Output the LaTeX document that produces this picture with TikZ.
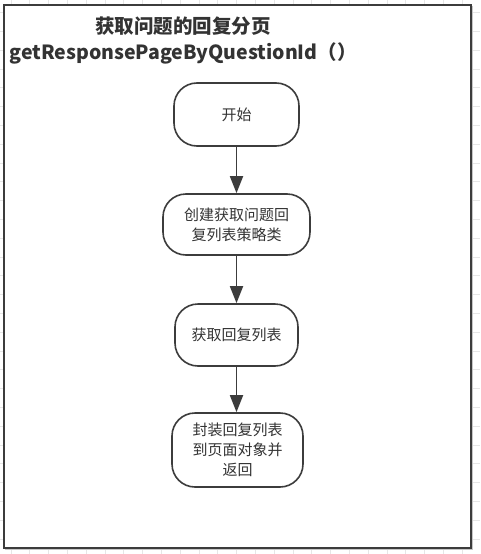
\documentclass[tikz,border=0pt]{standalone}
\usepackage{fontspec}
\setmainfont{Noto Sans CJK SC}
\usetikzlibrary{arrows.meta}
\definecolor{edge}{HTML}{3C3C3C}
\definecolor{txt}{HTML}{333333}
\definecolor{gridc}{HTML}{E6E6E6}
\tikzset{
  stepbox/.style={draw=edge, line width=1.6pt, fill=white, rounded corners=23pt,
    align=center, text=txt, font=\fontsize{15}{20}\selectfont, inner sep=0pt},
  flow/.style={draw=edge, line width=1.8pt, -{Triangle[length=17pt,width=13pt]}},
}
\begin{document}
\begin{tikzpicture}[x=1pt,y=-1pt]
\useasboundingbox (0,0) rectangle (480,554);
% background grid
\foreach \k in {0,...,25} {\draw[gridc, line width=0.8pt] ({11+18.8*\k},0) -- ({11+18.8*\k},554);}
\foreach \k in {0,...,29} {\draw[gridc, line width=0.8pt] (0,{12.5+18.8*\k}) -- (480,{12.5+18.8*\k});}
% outer frame
\draw[gray!45, line width=1pt] (5.5,6.5) rectangle (472.5,549.5);
\draw[edge, line width=1.8pt, fill=white] (4,5) rectangle (471,548);
% title
\node[align=center, text=txt, font=\bfseries\fontsize{19.5}{26}\selectfont, inner sep=0pt] (title) at (183,40)
  {获取问题的回复分页\\getResponsePageByQuestionId（）};
% nodes
\node[stepbox, minimum width=125pt, minimum height=63pt] (start) at (236.5,114.5) {开始};
\node[stepbox, minimum width=147pt, minimum height=61pt] (create) at (236.5,224.5) {创建获取问题回\\复列表策略类};
\node[stepbox, minimum width=123pt, minimum height=62pt] (fetch) at (236.5,335) {获取回复列表};
\node[stepbox, minimum width=131pt, minimum height=74pt] (wrap) at (237.5,450) {封装回复列表\\到页面对象并\\返回};
% connectors
\draw[flow] (start) -- (create);
\draw[flow] (create) -- (fetch);
\draw[flow] (fetch.south) -- (fetch.south |- wrap.north);
\end{tikzpicture}
\end{document}
